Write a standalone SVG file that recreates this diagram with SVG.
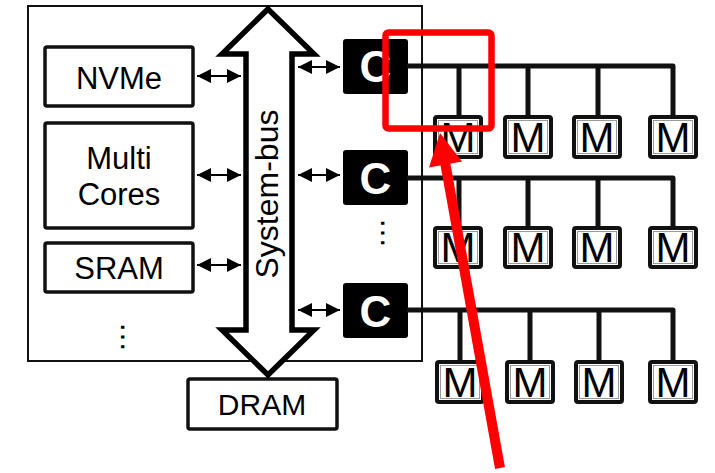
<svg xmlns="http://www.w3.org/2000/svg" width="715" height="473" viewBox="0 0 715 473">
<style>
.t{font-family:"Liberation Sans",Arial,sans-serif;fill:#000;text-anchor:middle}
.box{fill:#fff;stroke:#111;stroke-width:3.5}
.cbox{fill:#000}
.ct{font-family:"Liberation Sans",Arial,sans-serif;font-weight:bold;font-size:44px;fill:#fff;text-anchor:middle}
.mo{fill:#fff;stroke:#111;stroke-width:4}
.mi{fill:none;stroke:#999;stroke-width:1}
.mt{font-family:"Liberation Sans",Arial,sans-serif;font-size:42px;fill:#000;text-anchor:middle}
.bus{fill:none;stroke:#111;stroke-width:5;stroke-linejoin:round}
.sa{stroke:#000;stroke-width:2;fill:none;marker-start:url(#ah);marker-end:url(#ah)}
</style>
<defs>
<marker id="ah" viewBox="0 0 10 10" refX="10" refY="5" markerWidth="7" markerHeight="7" markerUnits="strokeWidth" orient="auto-start-reverse">
<path d="M0,0 L10,5 L0,10 Z" fill="#000"/>
</marker>
</defs>
<rect width="715" height="473" fill="#fff"/>
<g id="host">
<rect x="28" y="6" width="394" height="355" fill="#fff" stroke="#111" stroke-width="2"/>
</g>
<g id="nvme"><rect class="box" x="45" y="47" width="148" height="59" rx="2"/><text class="t" x="119" y="89" font-size="31">NVMe</text></g>
<g id="cores"><rect class="box" x="45" y="123" width="148" height="105" rx="2"/><text class="t" x="119" y="169" font-size="31">Multi</text><text class="t" x="119" y="205" font-size="31">Cores</text></g>
<g id="sram"><rect class="box" x="45" y="243" width="148" height="49" rx="2"/><text class="t" x="119" y="279" font-size="31">SRAM</text></g>
<text class="t" x="0" y="0" font-size="31" transform="translate(121,337) rotate(90)">…</text>
<g id="dram"><rect class="box" x="188" y="379" width="149" height="50" rx="2"/><text class="t" x="262" y="415" font-size="30">DRAM</text></g>
<g id="systembus">
<polygon points="268,9 222,54 246,54 246,330 222,330 268,375 314,330 292,330 292,54 314,54" fill="#fff" stroke="#000" stroke-width="5.5" stroke-linejoin="miter"/>
<text class="t" x="0" y="0" font-size="32" transform="translate(278,194) rotate(-90)">System-bus</text>
</g>
<g id="c1"><rect class="cbox" x="343" y="39" width="65" height="55" rx="3"/><text class="ct" x="375.5" y="82">C</text></g>
<g id="c2"><rect class="cbox" x="343" y="150" width="65" height="55" rx="3"/><text class="ct" x="375.5" y="194">C</text></g>
<g id="c3"><rect class="cbox" x="343" y="283" width="65" height="55" rx="3"/><text class="ct" x="375.5" y="327">C</text></g>
<text class="t" x="0" y="0" font-size="31" transform="translate(381,233) rotate(90)">…</text>
<g id="connectors">
<line class="sa" x1="197" y1="76" x2="241" y2="76"/>
<line class="sa" x1="197" y1="175" x2="241" y2="175"/>
<line class="sa" x1="197" y1="265" x2="241" y2="265"/>
<line class="sa" x1="298" y1="67" x2="340" y2="67"/>
<line class="sa" x1="298" y1="175" x2="340" y2="175"/>
<line class="sa" x1="298" y1="310" x2="340" y2="310"/>
<path class="bus" d="M407,66 H673 V115 M459,66 V115 M528,66 V115 M598,66 V115"/>
<path class="bus" d="M407,178 H673 V226 M459,178 V226 M528,178 V226 M598,178 V226"/>
<path class="bus" d="M407,310 H673 V360 M460,310 V360 M530,310 V360 M599,310 V360"/>
</g>
<g id="m-row1">
<g id="m11"><rect class="mo" x="435" y="117" width="46" height="40" rx="2"/><rect class="mi" x="438.5" y="120.5" width="39" height="33"/><text class="mt" x="458" y="152">M</text></g>
<g id="m12"><rect class="mo" x="505" y="117" width="46" height="40" rx="2"/><rect class="mi" x="508.5" y="120.5" width="39" height="33"/><text class="mt" x="528" y="152">M</text></g>
<g id="m13"><rect class="mo" x="574" y="117" width="46" height="40" rx="2"/><rect class="mi" x="577.5" y="120.5" width="39" height="33"/><text class="mt" x="597" y="152">M</text></g>
<g id="m14"><rect class="mo" x="650" y="117" width="46" height="40" rx="2"/><rect class="mi" x="653.5" y="120.5" width="39" height="33"/><text class="mt" x="673" y="152">M</text></g>
</g>
<g id="m-row2">
<g id="m21"><rect class="mo" x="435" y="228" width="46" height="39" rx="2"/><rect class="mi" x="438.5" y="231.5" width="39" height="32"/><text class="mt" x="458" y="262">M</text></g>
<g id="m22"><rect class="mo" x="505" y="228" width="46" height="39" rx="2"/><rect class="mi" x="508.5" y="231.5" width="39" height="32"/><text class="mt" x="528" y="262">M</text></g>
<g id="m23"><rect class="mo" x="574" y="228" width="46" height="39" rx="2"/><rect class="mi" x="577.5" y="231.5" width="39" height="32"/><text class="mt" x="597" y="262">M</text></g>
<g id="m24"><rect class="mo" x="650" y="228" width="46" height="39" rx="2"/><rect class="mi" x="653.5" y="231.5" width="39" height="32"/><text class="mt" x="673" y="262">M</text></g>
</g>
<g id="m-row3">
<g id="m31"><rect class="mo" x="437" y="362" width="46" height="40" rx="2"/><rect class="mi" x="440.5" y="365.5" width="39" height="33"/><text class="mt" x="460" y="397">M</text></g>
<g id="m32"><rect class="mo" x="507" y="362" width="46" height="40" rx="2"/><rect class="mi" x="510.5" y="365.5" width="39" height="33"/><text class="mt" x="530" y="397">M</text></g>
<g id="m33"><rect class="mo" x="576" y="362" width="46" height="40" rx="2"/><rect class="mi" x="579.5" y="365.5" width="39" height="33"/><text class="mt" x="599" y="397">M</text></g>
<g id="m34"><rect class="mo" x="650" y="362" width="46" height="40" rx="2"/><rect class="mi" x="653.5" y="365.5" width="39" height="33"/><text class="mt" x="673" y="397">M</text></g>
</g>
<g id="highlight">
<rect x="385.5" y="32.5" width="106" height="96" rx="3" fill="none" stroke="#f00" stroke-width="6.5"/>
<line x1="500" y1="468" x2="445" y2="162" stroke="#f00" stroke-width="10"/>
<polygon points="440,133 462,161.5 429,167.5" fill="#f00"/>
</g>
</svg>
